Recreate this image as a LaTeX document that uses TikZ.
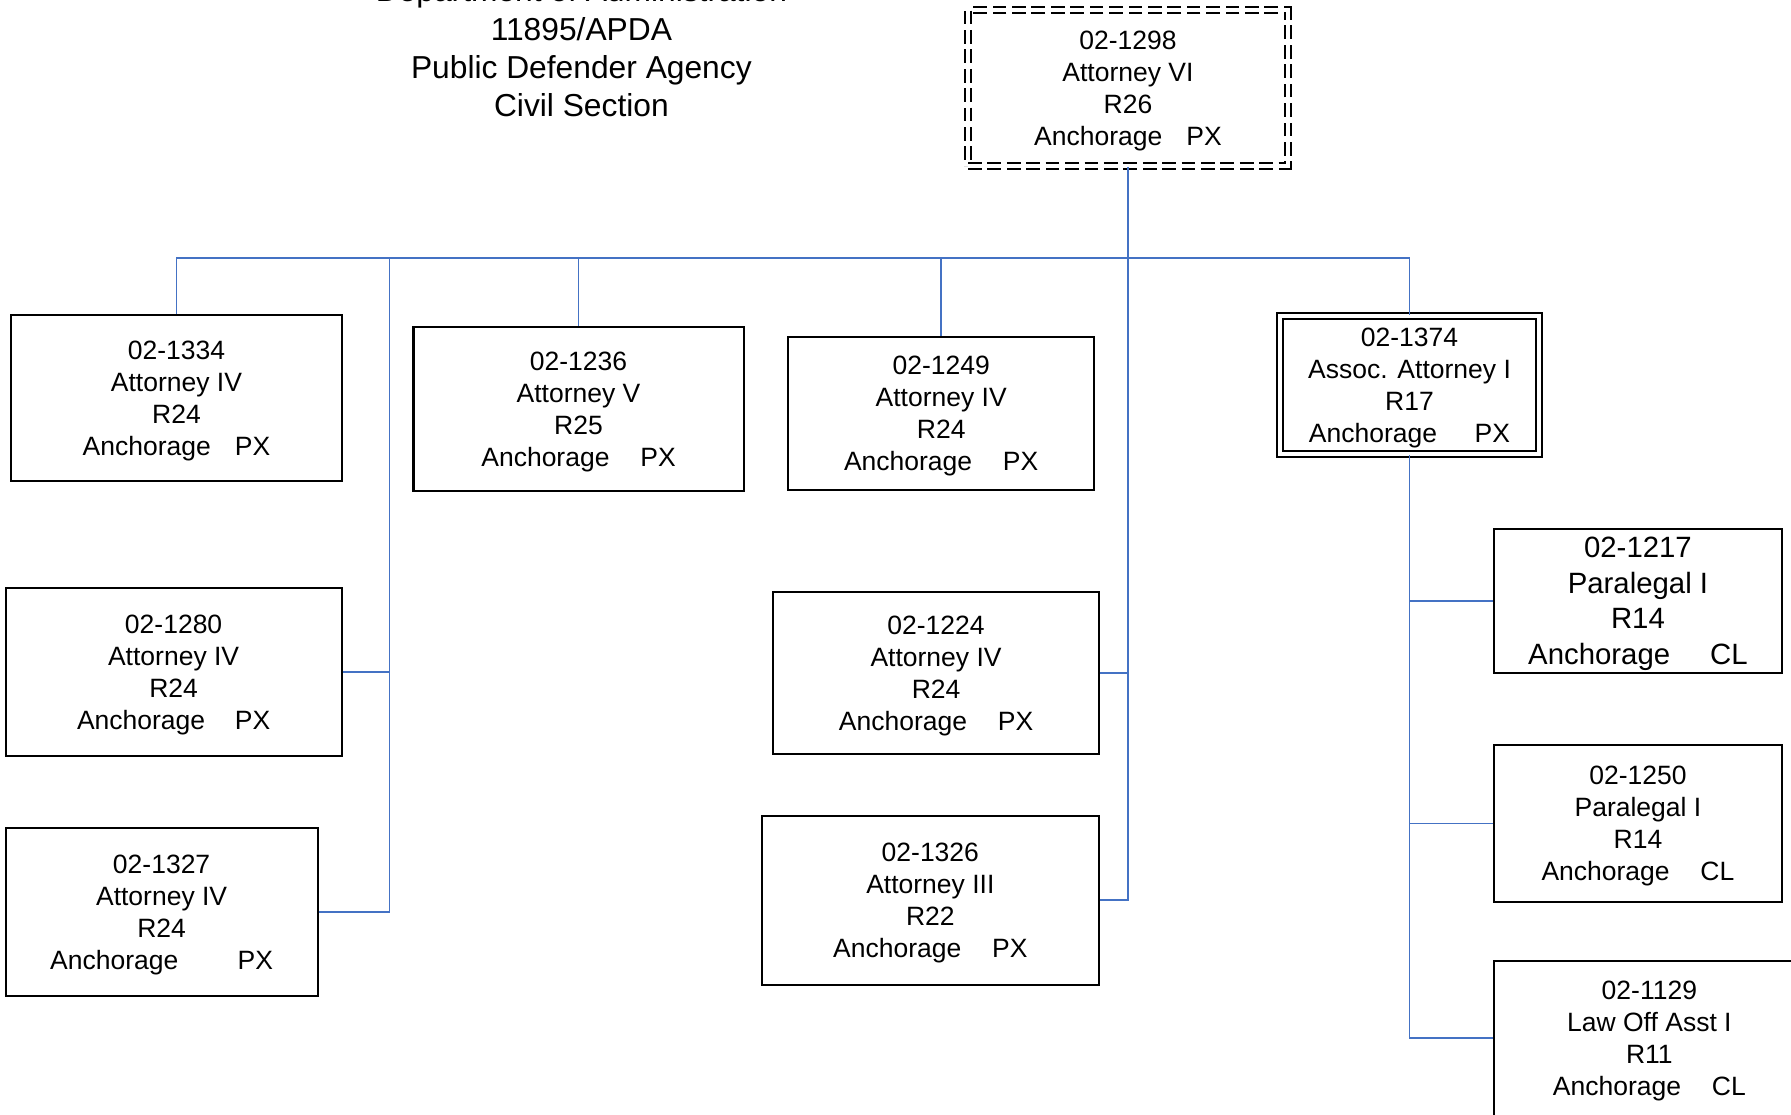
\documentclass[tikz,border=0pt]{standalone}
\usepackage{fontspec}
\setmainfont{Liberation Sans}
\definecolor{linkblue}{HTML}{4472C4}

\begin{document}
\begin{tikzpicture}[x=0.5pt,y=-0.5pt,
  post/.style={draw, line width=0.9pt, align=center, inner sep=0pt, text depth=0pt,
    font=\fontsize{11.6}{14}\selectfont},
  chief/.style={post, double, double distance=1.6pt},
  link/.style={draw=linkblue, line width=0.8pt}]
  \def\gap#1{\hspace{#1pt}}
  \useasboundingbox (0,0) rectangle (1568,975.4);
  \clip (0,0) rectangle (1568,975.4);

  % heading
  \node[align=center, font=\fontsize{13.9}{16.75}\selectfont] (title) at (509,42)
    {Department of Administration\\11895/APDA\\Public Defender Agency\\Civil Section};

  % positions
  \node[chief, dashed, dash pattern=on 6pt off 2.5pt, minimum width=140pt, minimum height=68.25pt]
    (p1298) at (987.5,77) {02-1298\\Attorney VI\\R26\\Anchorage\gap{10.5}PX};
  \node[post, minimum width=144.5pt, minimum height=72.5pt] (p1334) at (154.5,348.5)
    {02-1334\\Attorney IV\\R24\\Anchorage\gap{10.5}PX};
  \node[post, minimum width=144.5pt, minimum height=72pt] (p1236) at (506.5,358)
    {02-1236\\Attorney V\\R25\\Anchorage\gap{13.5}PX};
  \node[post, minimum width=134pt, minimum height=67pt] (p1249) at (824,362)
    {02-1249\\Attorney IV\\R24\\Anchorage\gap{13.5}PX};
  \node[chief, minimum width=113.5pt, minimum height=60.5pt] (p1374) at (1234,337)
    {02-1374\\Assoc. Attorney I\\R17\\Anchorage\gap{16.5}PX};
  \node[post, minimum width=147pt, minimum height=73.5pt] (p1280) at (152,588.5)
    {02-1280\\Attorney IV\\R24\\Anchorage\gap{13}PX};
  \node[post, minimum width=136.5pt, minimum height=73.5pt] (p1327) at (141.5,798.5)
    {02-1327\\Attorney IV\\R24\\Anchorage\gap{26}PX};
  \node[post, minimum width=142.5pt, minimum height=71pt] (p1224) at (819.5,589)
    {02-1224\\Attorney IV\\R24\\Anchorage\gap{13.5}PX};
  \node[post, minimum width=147.5pt, minimum height=74pt] (p1326) at (814.5,788)
    {02-1326\\Attorney III\\R22\\Anchorage\gap{13.5}PX};
  \node[post, minimum width=126pt, minimum height=63pt,
    font=\fontsize{12.85}{15.5}\selectfont]
    (p1217) at (1434,526) {02-1217\\Paralegal I\\R14\\Anchorage\gap{17.5}CL};
  \node[post, minimum width=126pt, minimum height=69pt] (p1250) at (1434,721)
    {02-1250\\Paralegal I\\R14\\Anchorage\gap{13.5}CL};
  % runs off the page at the bottom
  \node[post, minimum width=136pt, minimum height=75pt, text depth=6.9pt]
    (p1129) at (1444,916) {02-1129\\Law Off Asst I\\R11\\Anchorage\gap{13.5}CL};

  % reporting lines
  \coordinate (bus) at (987.5,226);
  \coordinate (spine) at (341,226);
  \draw[link] (p1298.south) -- (bus);
  \draw[link] (p1334.north) |- (bus);
  \draw[link] (p1236.north) |- (bus);
  \draw[link] (p1249.north) |- (bus);
  \draw[link] (p1374.north) |- (bus);
  \draw[link] (p1280.east) -| (spine);
  \draw[link] (p1327.east) -| (spine);
  \draw[link] (p1224.east) -| (bus);
  \draw[link] (p1326.east) -| (bus);
  \draw[link] (p1217.west) -| (p1374.south);
  \draw[link] (p1250.west) -| (p1374.south);
  \draw[link] (p1129.west |- 0,909) -| (p1374.south);
\end{tikzpicture}
\end{document}
